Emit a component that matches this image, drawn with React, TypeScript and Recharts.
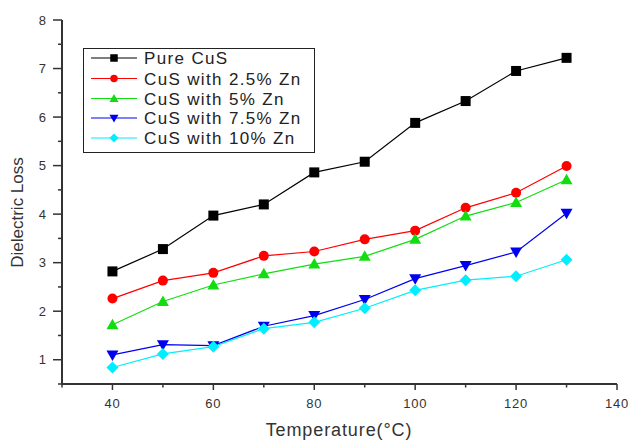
import React from "react";
import { LineChart, Line, XAxis, YAxis } from "recharts";

const temperature = [40, 50, 60, 70, 80, 90, 100, 110, 120, 130];
const pureCuS = [2.82, 3.28, 3.97, 4.2, 4.86, 5.08, 5.88, 6.33, 6.95, 7.22];
const zn25 = [2.26, 2.63, 2.79, 3.14, 3.23, 3.48, 3.66, 4.13, 4.44, 4.99];
const zn5 = [1.72, 2.2, 2.54, 2.77, 2.97, 3.13, 3.48, 3.96, 4.24, 4.71];
const zn75 = [1.1, 1.31, 1.29, 1.69, 1.91, 2.24, 2.67, 2.94, 3.22, 4.02];
const zn10 = [0.84, 1.12, 1.27, 1.64, 1.77, 2.06, 2.43, 2.64, 2.72, 3.06];

const xTicks = [30, 40, 50, 60, 70, 80, 90, 100, 110, 120, 130, 140];
const yTicks = [0.5, 1, 1.5, 2, 2.5, 3, 3.5, 4, 4.5, 5, 5.5, 6, 6.5, 7, 7.5, 8];

const seriesNames = ["Pure CuS", "CuS with 2.5% Zn", "CuS with 5% Zn", "CuS with 7.5% Zn", "CuS with 10% Zn"];
const seriesKeys = ["pure", "zn25", "zn5", "zn75", "zn10"];
const seriesColors = ["#000000", "#ff0000", "#11dd11", "#0000ee", "#00eeff"];
const seriesShapes = ["square", "circle", "triangle", "triangleDown", "diamond"];

const data = temperature.map((t, i) => ({
  t,
  pure: pureCuS[i],
  zn25: zn25[i],
  zn5: zn5[i],
  zn75: zn75[i],
  zn10: zn10[i],
}));

const FONT = "'Liberation Sans', Arial, sans-serif";
const AXIS = "#333333";

function Marker({ shape, cx, cy, color, s = 1 }: { shape: string; cx: number; cy: number; color: string; s?: number }) {
  if (shape === "square") return <rect x={cx - 5 * s} y={cy - 5 * s} width={10 * s} height={10 * s} fill={color} />;
  if (shape === "circle") return <circle cx={cx} cy={cy} r={5 * s} fill={color} />;
  if (shape === "triangle")
    return (
      <polygon
        points={`${cx},${cy - 6 * s} ${cx - 6 * s},${cy + 4.5 * s} ${cx + 6 * s},${cy + 4.5 * s}`}
        fill={color}
      />
    );
  if (shape === "triangleDown")
    return (
      <polygon
        points={`${cx},${cy + 6 * s} ${cx - 6 * s},${cy - 4.5 * s} ${cx + 6 * s},${cy - 4.5 * s}`}
        fill={color}
      />
    );
  return (
    <polygon
      points={`${cx},${cy - 6 * s} ${cx + 6 * s},${cy} ${cx},${cy + 6 * s} ${cx - 6 * s},${cy}`}
      fill={color}
    />
  );
}

const makeDot = (shape: string, color: string) => (props: any) => {
  const { cx, cy, index } = props;
  return (
    <g key={`${shape}-${index}`}>
      <Marker shape={shape} cx={cx} cy={cy} color={color} />
    </g>
  );
};

const XTick = (props: any) => {
  const { x, y, payload } = props;
  const v = payload.value;
  const major = v % 20 === 0;
  return (
    <g>
      <line x1={x} y1={y} x2={x} y2={y + (major ? 6 : 3.5)} stroke={AXIS} strokeWidth={1.5} />
      {major && (
        <text x={x} y={y + 24} textAnchor="middle" fontSize={13} fill="#333" fontFamily={FONT} letterSpacing={0.8}>
          {v}
        </text>
      )}
    </g>
  );
};

const YTick = (props: any) => {
  const { x, y, payload } = props;
  const v = payload.value;
  const major = Number.isInteger(v);
  return (
    <g>
      <line x1={x - (major ? 9 : 4)} y1={y} x2={x} y2={y} stroke={AXIS} strokeWidth={1.5} />
      {major && (
        <text x={x - 16} y={y} dy="0.35em" textAnchor="end" fontSize={13} fill="#333" fontFamily={FONT}>
          {v}
        </text>
      )}
    </g>
  );
};

const legendRowsY = [58, 78.5, 98.5, 118, 138];

export default function App() {
  return (
    <div style={{ position: "absolute", left: 0, top: 0, width: 630, height: 441, background: "#fff" }}>
      <LineChart width={630} height={441} data={data} margin={{ top: 20, right: 13, left: 0, bottom: 0 }}>
        <XAxis
          dataKey="t"
          type="number"
          domain={[30, 140]}
          ticks={xTicks}
          height={57}
          tickSize={0}
          tickMargin={0}
          tick={<XTick />}
          axisLine={{ stroke: AXIS, strokeWidth: 2 }}
          tickLine={false}
          interval={0}
        />
        <YAxis
          type="number"
          domain={[0.5, 8]}
          ticks={yTicks}
          width={62}
          tickSize={0}
          tickMargin={0}
          tick={<YTick />}
          axisLine={{ stroke: AXIS, strokeWidth: 2 }}
          tickLine={false}
          interval={0}
        />
        {seriesKeys.map((k, i) => (
          <Line
            key={k}
            dataKey={k}
            name={seriesNames[i]}
            stroke={seriesColors[i]}
            strokeWidth={1.2}
            dot={makeDot(seriesShapes[i], seriesColors[i])}
            activeDot={false}
            isAnimationActive={false}
          />
        ))}
      </LineChart>
      <svg
        width={630}
        height={441}
        style={{ position: "absolute", left: 0, top: 0, pointerEvents: "none" }}
      >
        <rect x={83.5} y={48.5} width={231} height={104} fill="#fff" stroke="#222" strokeWidth={1} />
        {seriesNames.map((n, i) => (
          <g key={n}>
            <line x1={91} y1={legendRowsY[i]} x2={137} y2={legendRowsY[i]} stroke={seriesColors[i]} strokeWidth={1.2} />
            <Marker shape={seriesShapes[i]} cx={114} cy={legendRowsY[i]} color={seriesColors[i]} s={0.75} />
            <text
              x={144}
              y={legendRowsY[i]}
              dy="0.36em"
              fontSize={17}
              fill="#222"
              fontFamily={FONT}
              letterSpacing={1.35}
            >
              {n}
            </text>
          </g>
        ))}
        <text
          x={339}
          y={436}
          textAnchor="middle"
          fontSize={18}
          fill="#333"
          fontFamily={FONT}
          letterSpacing={0.9}
        >
          Temperature(°C)
        </text>
        <text
          x={0}
          y={0}
          transform="translate(23,212.5) rotate(-90)"
          textAnchor="middle"
          fontSize={17}
          fill="#333"
          fontFamily={FONT}
        >
          Dielectric Loss
        </text>
      </svg>
    </div>
  );
}
